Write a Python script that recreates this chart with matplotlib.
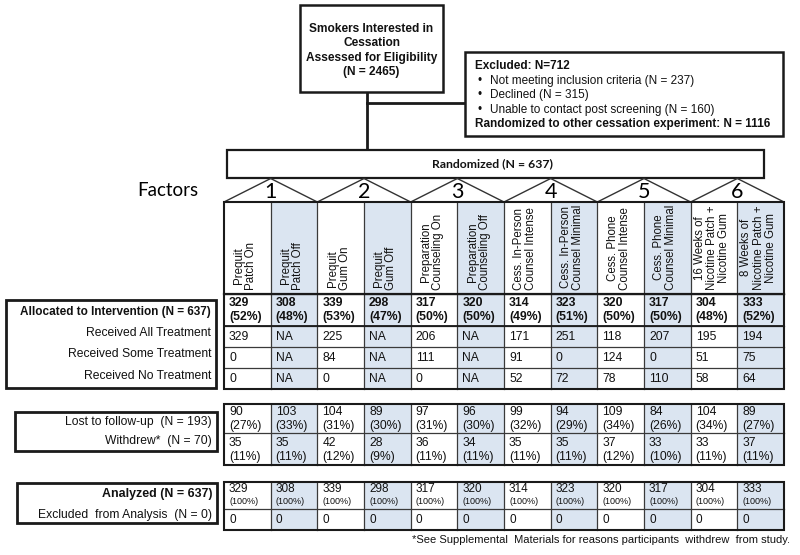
import matplotlib.pyplot as plt
from matplotlib.patches import Rectangle, Polygon

# column headers (12 arms, 2 per factor)
arm_labels = ['Prequit\nPatch On', 'Prequit\nPatch Off', 'Prequit\nGum On', 'Prequit\nGum Off',
              'Preparation\nCounseling On', 'Preparation\nCounseling Off',
              'Cess. In-Person\nCounsel Intense', 'Cess. In-Person\nCounsel Minimal',
              'Cess. Phone\nCounsel Intense', 'Cess. Phone\nCounsel Minimal',
              '16 Weeks of\nNicotine Patch +\nNicotine Gum', '8 Weeks of\nNicotine Patch +\nNicotine Gum']
factors = ['1', '2', '3', '4', '5', '6']

allocated = [329, 308, 339, 298, 317, 320, 314, 323, 320, 317, 304, 333]
allocated_pct = [52, 48, 53, 47, 50, 50, 49, 51, 50, 50, 48, 52]
received_all = ['329', 'NA', '225', 'NA', '206', 'NA', '171', '251', '118', '207', '195', '194']
received_some = ['0', 'NA', '84', 'NA', '111', 'NA', '91', '0', '124', '0', '51', '75']
received_none = ['0', 'NA', '0', 'NA', '0', 'NA', '52', '72', '78', '110', '58', '64']
lost = [90, 103, 104, 89, 97, 96, 99, 94, 109, 84, 104, 89]
lost_pct = [27, 33, 31, 30, 31, 30, 32, 29, 34, 26, 34, 27]
withdrew = [35, 35, 42, 28, 36, 34, 35, 35, 37, 33, 33, 37]
withdrew_pct = [11, 11, 12, 9, 11, 11, 11, 11, 12, 10, 11, 11]
analyzed = [329, 308, 339, 298, 317, 320, 314, 323, 320, 317, 304, 333]
excluded_analysis = [0, 0, 0, 0, 0, 0, 0, 0, 0, 0, 0, 0]

excluded_lines = ['Not meeting inclusion criteria (N = 237)', 'Declined (N = 315)',
                  'Unable to contact post screening (N = 160)']

FONT = 'Liberation Sans'
SHADE = '#dbe5f1'
EDGE = '#1a1a1a'
GRID = '#3a3a3a'

fig = plt.figure(figsize=(8, 5.55), dpi=100)
ax = fig.add_axes([0, 0, 1, 1])
ax.set_xlim(0, 800)
ax.set_ylim(555, 0)
ax.axis('off')


def box(x0, y0, x1, y1, lw=1.8, fc='white', z=2):
    ax.add_patch(Rectangle((x0, y0), x1 - x0, y1 - y0, fc=fc, ec=EDGE, lw=lw, zorder=z))


def txt(x, y, s, size=8.7, bold=False, ha='left', va='center', family=FONT, **kw):
    ax.text(x, y, s, fontsize=size, fontweight='bold' if bold else 'normal', family=family,
            ha=ha, va=va, color='#111111', zorder=5, **kw)


# top of flow
box(300, 5, 443, 92)
for y, s in zip([29, 43, 58, 72], ['Smokers Interested in', 'Cessation',
                                   'Assessed for Eligibility', '(N = 2465)']):
    txt(371.5, y, s, size=8.6, bold=True, ha='center')
ax.plot([367, 367], [92, 150], color=EDGE, lw=2, zorder=1)
ax.plot([367, 465], [103, 103], color=EDGE, lw=2, zorder=1)

box(465, 52, 783, 136)
txt(475, 66, 'Excluded: N=712', size=8.5, bold=True)
for i, s in enumerate(excluded_lines):
    y = 81 + i * 14.3
    txt(478, y, '\u2022', size=8.5)
    txt(490, y, s, size=8.5)
txt(475, 124, 'Randomized to other cessation experiment: N = 1116', size=8.5, bold=True)

# randomized box and factor triangles
box(227, 150, 764, 178, lw=1.6)
txt(492, 164, 'Randomized (N = 637)', size=8.8, bold=True, ha='center', family='Lato')

x0, x1 = 224, 784
cw = (x1 - x0) / 12
ax.text(168, 191, 'Factors', fontsize=13.5, family='Lato', ha='center', va='center')
for f, lab in enumerate(factors):
    left = x0 + 2 * f * cw
    mid = left + cw
    ax.add_patch(Polygon([(left, 202), (mid, 178.5), (left + 2 * cw, 202)], closed=False,
                         fill=False, ec='#333333', lw=1, zorder=3))
    ax.text(mid, 191.5, lab, fontsize=15.5, family='Lato', ha='center', va='center', zorder=5)


def table(edges):
    top, bottom = edges[0], edges[-1]
    for c in range(12):
        if c % 2 == 1:
            ax.add_patch(Rectangle((x0 + c * cw, top), cw, bottom - top, fc=SHADE, ec='none', zorder=1))
    for c in range(1, 12):
        ax.plot([x0 + c * cw] * 2, [top, bottom], color=GRID, lw=0.9, zorder=2)
    for y in edges[1:-1]:
        ax.plot([x0, x1], [y, y], color=GRID, lw=0.9, zorder=2)
    ax.add_patch(Rectangle((x0, top), x1 - x0, bottom - top, fill=False, ec=EDGE, lw=1.5, zorder=3))


# table 1: header + allocation / treatment received
t1 = [202, 294, 326, 347, 368, 389]
table(t1)
ax.plot([x0, x1], [294, 294], color=EDGE, lw=1.6, zorder=3)
ax.plot([x0, x1], [326, 326], color=EDGE, lw=1.3, zorder=3)
for c in range(12):
    cx = x0 + c * cw
    txt(cx + cw / 2 - 2, 290, arm_labels[c], size=8.3, ha='center', va='bottom', rotation=90,
        linespacing=1.02)
    txt(cx + 5, 310, f'{allocated[c]}\n({allocated_pct[c]}%)', size=8.8, bold=True, linespacing=1.15)
    txt(cx + 5, 337, received_all[c])
    txt(cx + 5, 358, received_some[c])
    txt(cx + 5, 379, received_none[c])

# table 2: follow-up
t2 = [404, 433, 465]
table(t2)
for c in range(12):
    cx = x0 + c * cw
    txt(cx + 5, 419, f'{lost[c]}\n({lost_pct[c]}%)', linespacing=1.15)
    txt(cx + 5, 450, f'{withdrew[c]}\n({withdrew_pct[c]}%)', linespacing=1.15)

# table 3: analysis
t3 = [482, 509, 530]
table(t3)
for c in range(12):
    cx = x0 + c * cw
    txt(cx + 5, 489, str(analyzed[c]), size=8.5)
    txt(cx + 5, 501, '(100%)', size=6.5)
    txt(cx + 5, 520, str(excluded_analysis[c]), size=8.5)

# left-hand stage boxes
box(6, 300, 216, 388, lw=2)
txt(211, 312, 'Allocated to Intervention (N = 637)', size=8.5, bold=True, ha='right')
txt(211, 333, 'Received All Treatment', ha='right')
txt(211, 354, 'Received Some Treatment', ha='right')
txt(211, 376, 'Received No Treatment', ha='right')

box(15, 412, 217, 451, lw=2)
txt(212, 422, 'Lost to follow-up  (N = 193)', ha='right')
txt(212, 441, 'Withdrew*  (N = 70)', ha='right')

box(17, 483, 217, 523, lw=2)
txt(212, 494, 'Analyzed (N = 637)', size=8.9, bold=True, ha='right')
txt(212, 515, 'Excluded  from Analysis  (N = 0)', ha='right')

txt(790, 540, '*See Supplemental  Materials for reasons participants  withdrew  from study.',
    size=8.0, ha='right')

fig.savefig('out.png', dpi=100)
